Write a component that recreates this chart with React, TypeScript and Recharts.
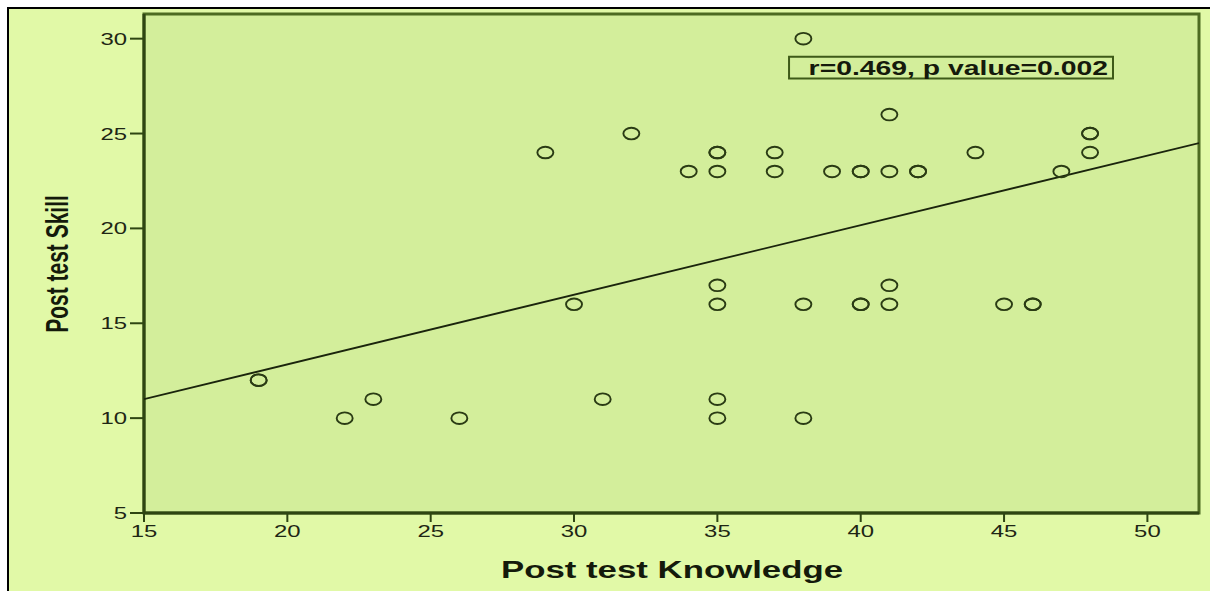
import {
  ScatterChart,
  Scatter,
  XAxis,
  YAxis,
  ReferenceArea,
} from 'recharts'

const knowledge = [19, 19, 22, 23, 26, 29, 30, 31, 32, 34, 35, 35, 35, 35, 35, 35, 35, 37, 37, 38, 38, 38, 39, 40, 40, 40, 40, 41, 41, 41, 41, 42, 42, 44, 45, 46, 46, 47, 48, 48, 48]
const skill = [12, 12, 10, 11, 10, 24, 16, 11, 25, 23, 24, 24, 23, 17, 16, 11, 10, 24, 23, 30, 16, 10, 23, 23, 23, 16, 16, 26, 23, 17, 16, 23, 23, 24, 16, 16, 16, 23, 25, 25, 24]

// fitted regression line end points
const fitX = [15, 51.8]
const fitY = [11.0, 24.5]

const xTicks = [15, 20, 25, 30, 35, 40, 45, 50]
const yTicks = [5, 10, 15, 20, 25, 30]

const annotation = 'r=0.469, p value=0.002'

const points = knowledge.map((k, i) => ({ x: k, y: skill[i] }))
const fitLine = fitX.map((x, i) => ({ x, y: fitY[i] }))

// the source picture is stretched sideways, so text is widened to match
const STRETCH = 1.45
const FONT = '"Liberation Sans", Arial, sans-serif'

function Ring(props: any) {
  const { cx, cy } = props
  if (cx == null || cy == null) return null
  return <ellipse cx={cx} cy={cy} rx={8} ry={5.8} fill="none" stroke="#2a3b14" strokeWidth={1.9} />
}

function XTick(props: any) {
  const { x, y, payload } = props
  return (
    <g transform={`translate(${x},${y})`}>
      <text transform={`scale(${STRETCH},1)`} textAnchor="middle" dy={13} fontSize={16.5} fontFamily={FONT} fill="#1e2614">
        {payload.value}
      </text>
    </g>
  )
}

function YTick(props: any) {
  const { x, y, payload } = props
  return (
    <g transform={`translate(${x},${y})`}>
      <text transform={`scale(${STRETCH},1)`} textAnchor="end" dy={6} fontSize={16.5} fontFamily={FONT} fill="#1e2614">
        {payload.value}
      </text>
    </g>
  )
}

function AnnotationLabel(props: any) {
  const vb = props.viewBox || {}
  return (
    <g transform={`translate(${vb.x + vb.width - 5},${vb.y + vb.height - 4})`}>
      <text transform="scale(1.35,1)" textAnchor="end" fontSize={21} fontWeight="bold" fontFamily={FONT} fill="#151a0c">
        {annotation}
      </text>
    </g>
  )
}

export default function App() {
  return (
    <div style={{ position: 'absolute', left: 0, top: 0, width: 1210, height: 591, background: '#ffffff', overflow: 'hidden' }}>
      <div style={{ position: 'absolute', left: 7, top: 7, width: 1220, height: 600, borderLeft: '2px solid #000', borderTop: '2px solid #000', background: '#e1f9a7' }} />
      <div style={{ position: 'absolute', left: 0, top: 0 }}>
        <ScatterChart width={1210} height={591} margin={{ top: 14, right: 11, bottom: 0, left: 0 }}>
          <XAxis
            type="number"
            dataKey="x"
            domain={[15, 51.8]}
            ticks={xTicks}
            allowDataOverflow
            height={78}
            tickSize={9}
            tickMargin={2}
            tick={<XTick />}
            axisLine={{ stroke: '#2e4512', strokeWidth: 3 }}
            tickLine={{ stroke: '#2e4512', strokeWidth: 2 }}
            label={{
              content: () => (
                <g transform="translate(672,578)">
                  <text transform={`scale(${STRETCH},1)`} textAnchor="middle" fontSize={24} fontWeight="bold" fontFamily={FONT} fill="#141a0b">
                    Post test Knowledge
                  </text>
                </g>
              ),
            }}
          />
          <YAxis
            type="number"
            dataKey="y"
            domain={[5, 31.3]}
            ticks={yTicks}
            allowDataOverflow
            width={144}
            tickSize={14}
            tickMargin={3}
            tick={<YTick />}
            axisLine={{ stroke: '#2e4512', strokeWidth: 3 }}
            tickLine={{ stroke: '#2e4512', strokeWidth: 2 }}
            label={{
              content: () => (
                <g transform="translate(68,264) rotate(-90)">
                  <text transform={`scale(1,${STRETCH})`} textAnchor="middle" fontSize={21} fontWeight="bold" fontFamily={FONT} fill="#141a0b">
                    Post test Skill
                  </text>
                </g>
              ),
            }}
          />
          <ReferenceArea x1={15} x2={51.8} y1={5} y2={31.3} fill="#d3ee9b" fillOpacity={1} stroke="#4d6b22" strokeWidth={3} ifOverflow="extendDomain" />
          <ReferenceArea
            x1={37.5}
            x2={48.8}
            y1={27.9}
            y2={29.05}
            fill="none"
            stroke="#3e5a18"
            strokeWidth={2}
            label={<AnnotationLabel />}
          />
          <Scatter data={fitLine} line={{ stroke: '#1a240c', strokeWidth: 1.8 }} shape={() => null} isAnimationActive={false} />
          <Scatter data={points} shape={<Ring />} isAnimationActive={false} />
        </ScatterChart>
      </div>
    </div>
  )
}
